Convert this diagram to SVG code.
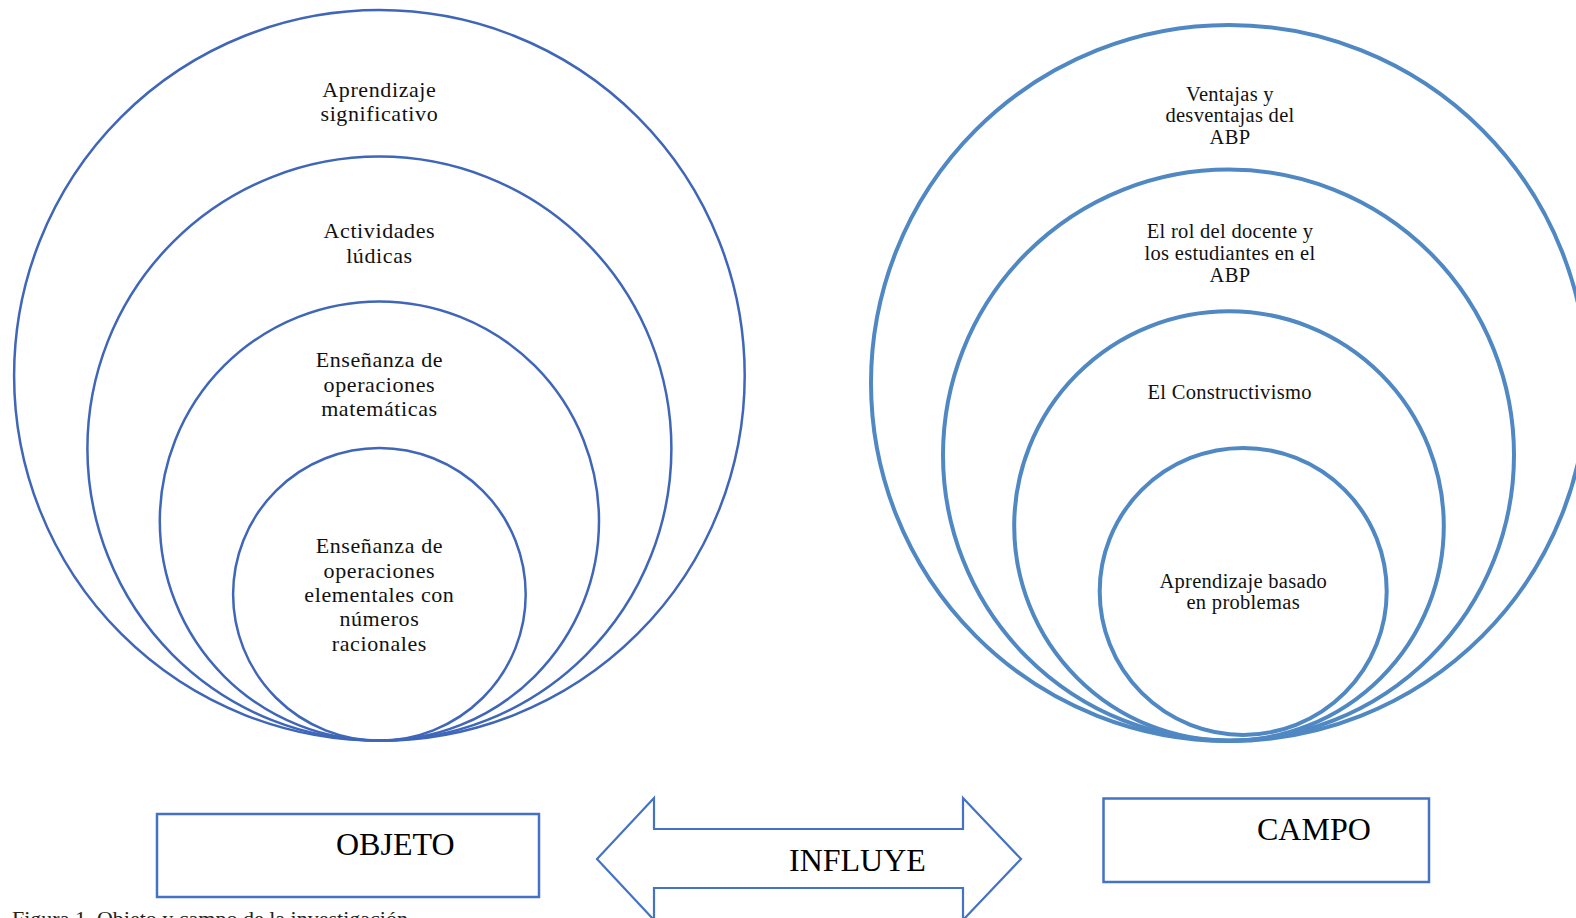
<svg xmlns="http://www.w3.org/2000/svg" width="1576" height="918" viewBox="0 0 1576 918">
<style>
.lc{fill:none;stroke:#3F66B8;stroke-width:2.5}
.rc{fill:none;stroke:#4F88C3;stroke-width:4}
.box{fill:#fff;stroke:#4472C4;stroke-width:2.5}
.lt{font-family:"Liberation Serif","Times New Roman",serif;font-size:22px;letter-spacing:0.6px;fill:#111;text-anchor:middle}
.rt{font-family:"Liberation Serif","Times New Roman",serif;font-size:20.5px;letter-spacing:0.3px;fill:#111;text-anchor:middle}
.bt{font-family:"Liberation Serif","Times New Roman",serif;font-size:32px;fill:#000}
.cap{font-family:"Liberation Serif","Times New Roman",serif;font-size:22px;fill:#222}
</style>
<rect width="1576" height="918" fill="#fff"/>
<g id="objeto-circulos">
<g id="c-aprendizaje-significativo">
<circle class="lc" cx="379.4" cy="375.4" r="365.3"/>
<text class="lt" x="379.4" y="96.7">Aprendizaje</text>
<text class="lt" x="379.4" y="120.5">significativo</text>
</g>
<g id="c-actividades-ludicas">
<circle class="lc" cx="379.4" cy="448.6" r="292"/>
<text class="lt" x="379.4" y="238.3">Actividades</text>
<text class="lt" x="379.4" y="262.5">lúdicas</text>
</g>
<g id="c-ensenanza-matematicas">
<circle class="lc" cx="379.4" cy="521" r="219.6"/>
<text class="lt" x="379.4" y="366.7">Enseñanza de</text>
<text class="lt" x="379.4" y="391.5">operaciones</text>
<text class="lt" x="379.4" y="416.3">matemáticas</text>
</g>
<g id="c-ensenanza-racionales">
<circle class="lc" cx="379.4" cy="594.3" r="146.3"/>
<text class="lt" x="379.4" y="553.3">Enseñanza de</text>
<text class="lt" x="379.4" y="577.6">operaciones</text>
<text class="lt" x="379.4" y="601.9">elementales con</text>
<text class="lt" x="379.4" y="626.2">números</text>
<text class="lt" x="379.4" y="650.5">racionales</text>
</g>
</g>
<g id="campo-circulos">
<g id="c-ventajas">
<circle class="rc" cx="1229" cy="383" r="358"/>
<text class="rt" x="1230" y="100.7">Ventajas y</text>
<text class="rt" x="1230" y="122.4">desventajas del</text>
<text class="rt" x="1230" y="144.1">ABP</text>
</g>
<g id="c-rol">
<circle class="rc" cx="1228.5" cy="455" r="285.5"/>
<text class="rt" x="1230" y="238.3">El rol del docente y</text>
<text class="rt" x="1230" y="260">los estudiantes en el</text>
<text class="rt" x="1230" y="281.7">ABP</text>
</g>
<g id="c-constructivismo">
<circle class="rc" cx="1229" cy="526" r="214.8"/>
<text class="rt" x="1229.6" y="399">El Constructivismo</text>
</g>
<g id="c-abp">
<circle class="rc" cx="1243.2" cy="591.4" r="143.5"/>
<text class="rt" x="1243.2" y="587.7">Aprendizaje basado</text>
<text class="rt" x="1243.2" y="609.4">en problemas</text>
</g>
</g>
<g id="objeto">
<rect class="box" x="157" y="814" width="382" height="83"/>
<text class="bt" x="336" y="855">OBJETO</text>
</g>
<g id="campo">
<rect class="box" x="1103.5" y="798.5" width="325.5" height="83.5"/>
<text class="bt" x="1257" y="840">CAMPO</text>
</g>
<g id="connectors">
<g id="influye">
<polygon points="597,859 654,798 654,829 963,829 963,798 1021,859 963,920 963,888 654,888 654,920" fill="#fff" stroke="#4472C4" stroke-width="2.2" stroke-linejoin="miter"/>
<text class="bt" x="789" y="871">INFLUYE</text>
</g>
</g>
<text class="cap" x="12" y="926">Figura 1. Objeto y campo de la investigación</text>
</svg>
